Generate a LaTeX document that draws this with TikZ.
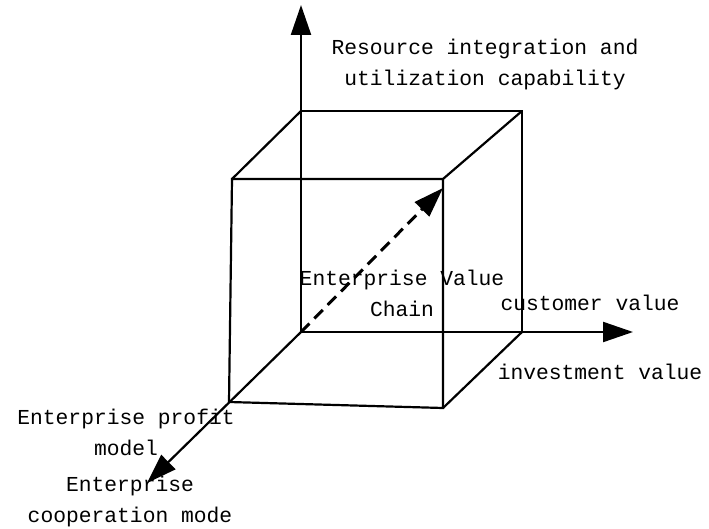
\documentclass[tikz,border=0pt]{standalone}
\usepackage{fontspec}
\setmainfont{Liberation Mono}
\usetikzlibrary{arrows.meta}
\begin{document}
\begin{tikzpicture}[x=1pt,y=-1pt,
  edge/.style={line width=2.2pt,line join=miter},
  axis/.style={line width=2.2pt,-{Triangle[length=30pt,width=20pt]}},
  dasharrow/.style={line width=3pt,dash pattern=on 12pt off 7pt,-{Triangle[length=30pt,width=20pt]}},
  lbl/.style={inner sep=0pt,align=center,font=\fontsize{21.3}{31}\selectfont,text=black}]
\useasboundingbox (0,0) rectangle (709,529);
% cube corners
\coordinate (O) at (301,332);
\coordinate (BTL) at (301,111);
\coordinate (BTR) at (522,111);
\coordinate (BBR) at (522,332);
\coordinate (FTL) at (232,179);
\coordinate (FTR) at (443,179);
\coordinate (FBR) at (443,408);
\coordinate (FBL) at (229,402);
\coordinate (Ytip) at (301,5);
\coordinate (Xtip) at (633,332);
\coordinate (Ztip) at (147,483);
\coordinate (Dtip) at (443,188);
% cube edges
\draw[edge] (BTL) -- (BTR) -- (BBR);
\draw[edge] (FTL) -- (FTR) -- (FBR) -- (FBL) -- cycle;
\draw[edge] (BTL) -- (FTL);
\draw[edge] (BTR) -- (FTR);
\draw[edge] (BBR) -- (FBR);
% axes
\draw[axis] (O) -- (Ytip);
\draw[axis] (O) -- (Xtip);
\draw[axis] (O) -- (Ztip);
\draw[dasharrow] (O) -- (Dtip);
% labels
\node[lbl] (res) at (485,64.5) {Resource integration and\\utilization capability};
\node[lbl] (evc) at (402,293.5) {Enterprise Value\\Chain};
\node[lbl] (cv) at (590,303) {customer value};
\node[lbl] (iv) at (600,372) {investment value};
\node[lbl] (epm) at (126,432.5) {Enterprise profit\\model};
\node[lbl] (ecm) at (130,501.5) {Enterprise\\cooperation mode};
\end{tikzpicture}
\end{document}
